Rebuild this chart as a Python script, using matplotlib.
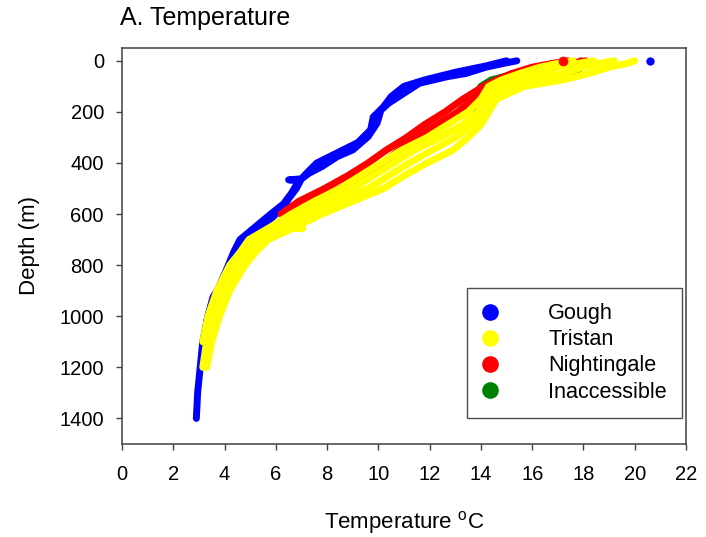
import matplotlib
matplotlib.use("Agg")
import matplotlib.pyplot as plt
from matplotlib.lines import Line2D

plt.rcParams['font.family'] = ['Liberation Sans', 'DejaVu Sans']

# CTD casts, depth (m) and temperature (degC)
gough_depth_a = [0, 10, 25, 50, 62, 88, 127, 166, 193, 244, 297, 349, 375, 414, 440, 462,
                 500, 540, 575, 600, 650, 690, 728, 780, 830, 885, 925, 1000, 1100, 1200, 1300, 1400]
gough_temp_a = [15.4, 14.9, 14.2, 13.4, 12.7, 11.6, 11.0, 10.4, 10.1, 9.95, 9.6, 9.0, 8.4, 7.8, 7.3, 7.0,
                6.8, 6.5, 6.3, 6.0, 5.5, 5.0, 4.5, 4.25, 4.05, 3.8, 3.55, 3.35, 3.15, 3.05, 2.95, 2.9]
gough_depth_b = [0, 20, 45, 75, 100, 140, 180, 220, 270, 320, 360, 400, 440, 462, 466, 470,
                 520, 560, 600, 650, 700, 750, 800, 870, 950, 1020]
gough_temp_b = [15.0, 14.2, 13.0, 11.8, 11.0, 10.5, 10.2, 9.8, 9.7, 9.2, 8.4, 7.6, 7.2, 7.0, 6.5, 6.9,
                6.6, 6.3, 5.8, 5.2, 4.6, 4.35, 4.15, 3.85, 3.5, 3.3]
gough_surface = (20.6, 0)

tristan_depth = [0, 10, 25, 50, 75, 100, 150, 200, 250, 300, 350, 400, 450, 500, 550, 600,
                 650, 700, 750, 800, 900, 1000, 1100, 1200]
tristan_temp_a = [20.0, 19.7, 19.0, 18.2, 17.2, 15.7, 14.6, 14.3, 14.0, 13.5, 12.9, 11.9, 11.0, 10.2, 9.0, 7.8,
                  6.8, 5.7, 5.2, 4.8, 4.2, 3.8, 3.5, 3.3]
tristan_temp_b = [19.2, 18.6, 18.0, 17.2, 16.2, 15.0, 14.4, 14.1, 13.7, 13.0, 12.1, 11.2, 10.4, 9.6, 8.4, 7.3,
                  6.4, 5.4, 5.0, 4.6, 4.0, 3.6, 3.4, 3.2]
tristan_temp_c = [18.4, 17.8, 17.0, 16.3, 15.3, 14.6, 14.2, 13.9, 13.3, 12.4, 11.4, 10.6, 9.8, 9.0, 7.9, 6.9,
                  6.1, 5.2, 4.8, 4.4, 3.9, 3.5, 3.3, 3.15]
tristan_temp_d = [17.6, 17.0, 16.3, 15.5, 14.8, 14.3, 14.0, 13.5, 12.7, 11.9, 10.9, 10.1, 9.3, 8.5, 7.5, 6.6,
                  5.8, 4.95, 4.6, 4.2, 3.7, 3.35, 3.15]
tristan_streak_depth = [652, 655, 658]
tristan_streak_temp = [6.0, 7.05, 6.0]

nightingale_depth_a = [0, 10, 25, 50, 75, 100, 150, 200, 250, 300, 350, 400, 450, 500, 550, 580, 600, 605]
nightingale_temp_a = [18.1, 17.4, 16.6, 15.7, 15.2, 14.6, 13.7, 13.1, 12.3, 11.5, 10.8, 10.2, 9.3, 8.5, 7.4, 6.9, 6.4, 7.2]
nightingale_depth_b = [0, 10, 25, 50, 75, 100, 150, 200, 250, 300, 350, 400, 450, 500, 550, 600]
nightingale_temp_b = [17.4, 16.8, 16.0, 15.2, 14.6, 14.1, 13.3, 12.6, 11.8, 11.1, 10.3, 9.6, 8.8, 7.9, 6.9, 6.2]
nightingale_surface = (17.2, 0)

inaccessible_depth = [0, 40, 63, 80, 94, 110, 150, 200]
inaccessible_temp = [17.9, 17.8, 17.6, 16.3, 15.1, 14.6, 14.2, 13.8]
inaccessible_depth_b = [48, 62, 75, 100, 150]
inaccessible_temp_b = [15.4, 14.9, 14.4, 14.0, 13.7]

islands = ['Gough', 'Tristan', 'Nightingale', 'Inaccessible']
colors = {'Gough': '#0000ff', 'Tristan': '#ffff00', 'Nightingale': '#ff0000', 'Inaccessible': '#008000'}

casts = [
    ('Gough', gough_temp_a, gough_depth_a),
    ('Gough', gough_temp_b, gough_depth_b),
    ('Inaccessible', inaccessible_temp, inaccessible_depth),
    ('Inaccessible', inaccessible_temp_b, inaccessible_depth_b),
    ('Nightingale', nightingale_temp_a, nightingale_depth_a),
    ('Nightingale', nightingale_temp_b, nightingale_depth_b),
    ('Tristan', tristan_temp_a, tristan_depth),
    ('Tristan', tristan_temp_b, tristan_depth),
    ('Tristan', tristan_temp_c, tristan_depth),
    ('Tristan', tristan_temp_d, tristan_depth[:len(tristan_temp_d)]),
    ('Tristan', tristan_streak_temp, tristan_streak_depth),
]

fig = plt.figure(figsize=(7.06, 5.37), dpi=100)
ax = fig.add_axes([0.1728, 0.1732, 0.7989, 0.7374])

for name, temp, depth in casts:
    ax.plot(temp, depth, color=colors[name], lw=5, solid_capstyle='round', solid_joinstyle='round')

ax.plot(*gough_surface, 'o', color=colors['Gough'], ms=6, mec='none')
ax.plot(*nightingale_surface, 'o', color=colors['Nightingale'], ms=7, mec='none')

ax.set_xlim(0, 22)
ax.set_ylim(1500, -50)
ax.set_xticks(range(0, 23, 2))
ax.set_yticks(range(0, 1401, 200))

for s in ax.spines.values():
    s.set_color('#404040')
    s.set_linewidth(1.1)
ax.tick_params(direction='out', length=4.5, width=1, color='#404040',
               labelsize=14.5, top=False, right=False)
ax.tick_params(axis='x', pad=10.5)
ax.tick_params(axis='y', pad=8.5)

ax.set_xlabel('Temperature $^{\\mathregular{o}}$C', fontsize=16, labelpad=18)
ax.set_ylabel('Depth (m)', fontsize=16, labelpad=14)
fig.text(120 / 706, 1 - 18 / 537, 'A. Temperature', fontsize=18, ha='left', va='center')

handles = [Line2D([], [], ls='', marker='o', ms=12, color=colors[n], mec='none') for n in islands]
leg = ax.legend(handles, islands, loc='lower right', bbox_to_anchor=(0.993, 0.066),
                borderaxespad=0, fontsize=15.6, frameon=True, fancybox=False,
                handlelength=0.7, handletextpad=2.35, labelspacing=0.24, borderpad=0.7)
leg.get_frame().set_edgecolor('#202020')
leg.get_frame().set_linewidth(1.0)

fig.savefig('out.png', dpi=100)
